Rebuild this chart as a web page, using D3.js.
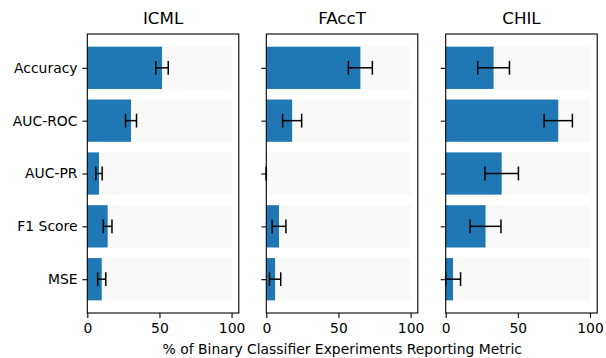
<!DOCTYPE html>
<html>
<head>
<meta charset="utf-8">
<script src="https://cdn.jsdelivr.net/npm/d3@7"></script>
<style>
  body { margin: 0; background: #fff; }
  svg { font-family: "DejaVu Sans", sans-serif; }
</style>
</head>
<body>
<svg id="chart" width="606" height="358"></svg>
<script>
// metrics shown on the y axis, top to bottom
const metrics = ['Accuracy', 'AUC-ROC', 'AUC-PR', 'F1 Score', 'MSE'];
const venues = ['ICML', 'FAccT', 'CHIL'];

// percent of experiments reporting each metric, per venue
const icmlValues = [51.8, 30.3, 8.1, 14.1, 10.0];
const icmlErrors = [4.3, 3.8, 2.2, 3.0, 2.8];
const facctValues = [65.2, 17.9, 0, 8.8, 6.1];
const facctErrors = [8.3, 6.6, 0, 4.8, 3.9];
const chilValues = [33.2, 78.0, 38.8, 27.6, 5.1];
const chilErrors = [11.0, 9.8, 11.6, 10.7, 5.2];

const xTicks = [0, 50, 100];
const xLabel = '% of Binary Classifier Experiments Reporting Metric';

const panels = [
  {title: venues[0], values: icmlValues, errors: icmlErrors, left: 87.3},
  {title: venues[1], values: facctValues, errors: facctErrors, left: 266.3},
  {title: venues[2], values: chilValues, errors: chilErrors, left: 445.7}
];

const panelWidth = 151.5;
const plotTop = 34, plotBottom = 313;
const blue = '#1f77b4';

const svg = d3.select('#chart');

// y: 5 bars at 0..4 with height 0.8, matplotlib 5% margins
const y = d3.scaleLinear().domain([-0.64, 4.64]).range([plotTop, plotBottom]);
const barH = y(0.8) - y(0);

panels.forEach((p, pi) => {
  const x = d3.scaleLinear().domain([0, 105]).range([p.left, p.left + panelWidth]);
  const g = svg.append('g');

  // light background bars to 100%
  g.selectAll('rect.bg')
    .data(metrics)
    .join('rect')
    .attr('class', 'bg')
    .attr('x', x(0))
    .attr('y', (d, i) => y(i - 0.4))
    .attr('width', x(100) - x(0))
    .attr('height', barH)
    .attr('fill', '#f9f9f9');

  g.selectAll('rect.bar')
    .data(p.values)
    .join('rect')
    .attr('class', 'bar')
    .attr('x', x(0))
    .attr('y', (d, i) => y(i - 0.4))
    .attr('width', d => x(d) - x(0))
    .attr('height', barH)
    .attr('fill', blue);

  // error bars, capsize 5pt
  const cap = 6.9;
  const eb = g.append('g')
    .attr('stroke', '#000')
    .attr('stroke-width', 1.5)
    .attr('fill', 'none');
  p.values.forEach((v, i) => {
    const lo = x(Math.max(0, v - p.errors[i]));
    const hi = x(v + p.errors[i]);
    const cy = y(i);
    eb.append('line').attr('x1', lo).attr('x2', hi).attr('y1', cy).attr('y2', cy);
    eb.append('line').attr('x1', lo).attr('x2', lo).attr('y1', cy - cap).attr('y2', cy + cap);
    eb.append('line').attr('x1', hi).attr('x2', hi).attr('y1', cy - cap).attr('y2', cy + cap);
  });

  // axes
  const xAxis = d3.axisBottom(x).tickValues(xTicks).tickSizeOuter(0).tickSize(4.9).tickPadding(4.9);
  const ax = g.append('g')
    .attr('transform', `translate(0,${plotBottom})`)
    .call(xAxis);
  ax.select('.domain').remove();
  ax.selectAll('text').attr('font-size', 13.9).attr('font-family', '"DejaVu Sans", sans-serif').attr('fill', '#000');
  ax.selectAll('line').attr('stroke', '#000').attr('stroke-width', 1.1);

  const yAxis = d3.axisLeft(y)
    .tickValues(d3.range(metrics.length))
    .tickFormat(i => pi === 0 ? metrics[i] : '')
    .tickSize(4.9).tickPadding(4.9);
  const ay = g.append('g')
    .attr('transform', `translate(${p.left},0)`)
    .call(yAxis);
  ay.select('.domain').remove();
  ay.selectAll('text').attr('font-size', 13.9).attr('font-family', '"DejaVu Sans", sans-serif').attr('fill', '#000');
  ay.selectAll('line').attr('stroke', '#000').attr('stroke-width', 1.1);

  // frame
  g.append('rect')
    .attr('x', p.left)
    .attr('y', plotTop)
    .attr('width', panelWidth)
    .attr('height', plotBottom - plotTop)
    .attr('fill', 'none')
    .attr('stroke', '#000')
    .attr('stroke-width', 1.1);

  g.append('text')
    .attr('x', p.left + panelWidth / 2)
    .attr('y', 24)
    .attr('text-anchor', 'middle')
    .attr('font-size', 16.7)
    .text(p.title);
});

svg.append('text')
  .attr('x', (87.3 + 445.7 + panelWidth) / 2)
  .attr('y', 354)
  .attr('text-anchor', 'middle')
  .attr('font-size', 13.9)
  .text(xLabel);
</script>
</body>
</html>
